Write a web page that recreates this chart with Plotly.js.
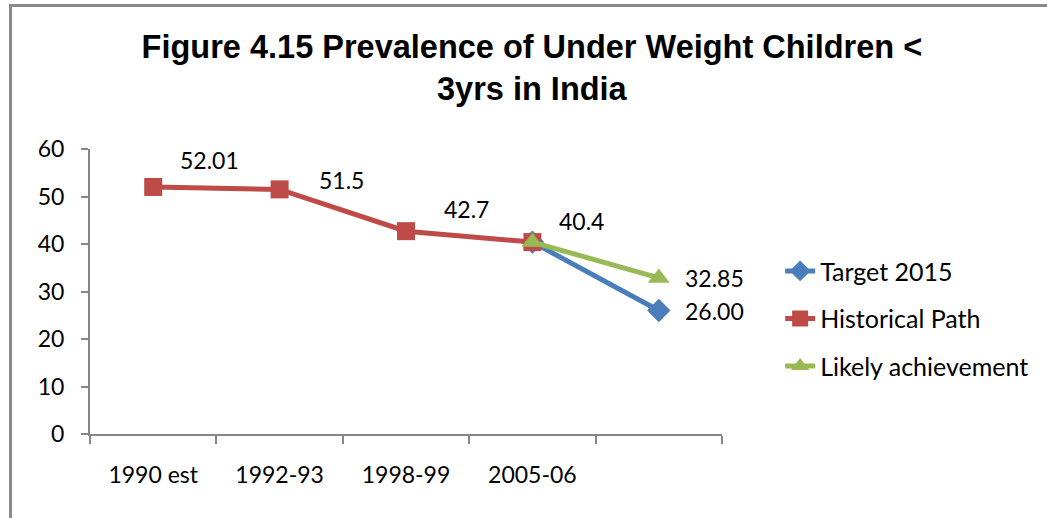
<!DOCTYPE html>
<html>
<head>
<meta charset="utf-8">
<script src="https://cdn.plot.ly/plotly-3.0.1.min.js"></script>
<style>
  html, body { margin: 0; padding: 0; background: #fff; overflow: hidden; }
  #frame { position: absolute; left: 9px; top: 4px; width: 1100px; height: 600px;
           border-left: 3px solid #8a8a8a; border-top: 3px solid #8a8a8a; pointer-events: none; z-index: 5; }
  #chart { position: absolute; left: 0; top: 0; width: 1047px; height: 518px; }
</style>
</head>
<body>
<div id="chart"></div>
<div id="frame"></div>
<script>
// ---- data ----
const categories = ['1990 est', '1992-93', '1998-99', '2005-06', '2015'];
const tickLabels = ['1990 est', '1992-93', '1998-99', '2005-06', ''];
const targetValues = [null, null, null, 40.4, 26.00];
const historicalValues = [52.01, 51.5, 42.7, 40.4, null];
const likelyValues = [null, null, null, 40.4, 32.85];
const seriesNames = ['Target 2015', 'Historical Path', 'Likely achievement'];

// ---- styling ----
const FONT = 'Lato, "Open Sans", sans-serif';
const TFONT = '"Liberation Sans", Arial, sans-serif';
const axisColor = '#868686';
const colors = ['#4A7EBB', '#BE4B48', '#98B954'];
const xPos = categories.map((c, i) => i);   // category slots on the axis

function mk(name, ys, color, symbol, size, group) {
  return {
    type: 'scatter', mode: 'lines+markers', name: name,
    x: xPos, y: ys, connectgaps: false,
    line: { color: color, width: 5 },
    marker: { color: color, symbol: symbol, size: size },
    legendgroup: group, cliponaxis: false
  };
}

const traces = [
  mk(seriesNames[0], targetValues, colors[0], 'diamond', 18, 'a'),
  mk(seriesNames[1], historicalValues, colors[1], 'square', 18, 'b'),
  mk(seriesNames[2], likelyValues, colors[2], 'triangle-up', 19, 'c')
];

// data labels (offsets in px are styling, text comes from the values)
const labelSpecs = [
  { vals: historicalValues, idx: 0, fmt: v => String(v), dx: 56, dy: -27 },
  { vals: historicalValues, idx: 1, fmt: v => String(v), dx: 62, dy: -9 },
  { vals: historicalValues, idx: 2, fmt: v => String(v), dx: 60, dy: -22 },
  { vals: historicalValues, idx: 3, fmt: v => String(v), dx: 49, dy: -21 },
  { vals: likelyValues, idx: 4, fmt: v => v.toFixed(2), dx: 56, dy: 0 },
  { vals: targetValues, idx: 4, fmt: v => v.toFixed(2), dx: 56, dy: 0 }
];
const annotations = labelSpecs.map(s => ({
  x: xPos[s.idx], y: s.vals[s.idx], xref: 'x', yref: 'y',
  text: s.fmt(s.vals[s.idx]), showarrow: false,
  xshift: s.dx, yshift: -s.dy,
  font: { family: FONT, size: 23, color: '#000' }
}));

const layout = {
  width: 1047, height: 518,
  margin: { l: 90, r: 325, t: 149, b: 84 },
  paper_bgcolor: '#fff', plot_bgcolor: '#fff',
  showlegend: true,
  title: {
    text: '<b>Figure 4.15 Prevalence of Under Weight Children <<br>3yrs in India</b>',
    x: 0.508, xanchor: 'center', xref: 'container',
    y: 0.888, yanchor: 'top', yref: 'container',
    font: { family: TFONT, size: 32.5, color: '#000' }
  },
  xaxis: {
    range: [-0.5, categories.length - 0.5],
    tickmode: 'array', tickvals: xPos, ticktext: tickLabels,
    ticks: '', showline: true, linecolor: axisColor, linewidth: 2,
    minor: { ticks: 'outside', tick0: -0.5, dtick: 1, ticklen: 8, tickwidth: 2, tickcolor: axisColor, showgrid: false },
    showgrid: false, zeroline: false,
    ticklabelstandoff: 19,
    tickfont: { family: FONT, size: 23, color: '#000' }
  },
  yaxis: {
    range: [0, 60], dtick: 10, tick0: 0,
    ticks: 'outside', ticklen: 7, tickwidth: 2, tickcolor: axisColor,
    showline: true, linecolor: axisColor, linewidth: 2,
    showgrid: false, zeroline: false,
    ticklabelstandoff: 12,
    tickfont: { family: FONT, size: 23, color: '#000' }
  },
  legend: {
    x: 1.092, xanchor: 'left', y: 0.652, yanchor: 'top',
    traceorder: 'grouped', tracegroupgap: 12,
    font: { family: FONT, size: 25, color: '#000' },
    bgcolor: 'rgba(0,0,0,0)', itemwidth: 30
  },
  annotations: annotations
};

Plotly.newPlot('chart', traces, layout, { displayModeBar: false, staticPlot: true });
</script>
</body>
</html>
